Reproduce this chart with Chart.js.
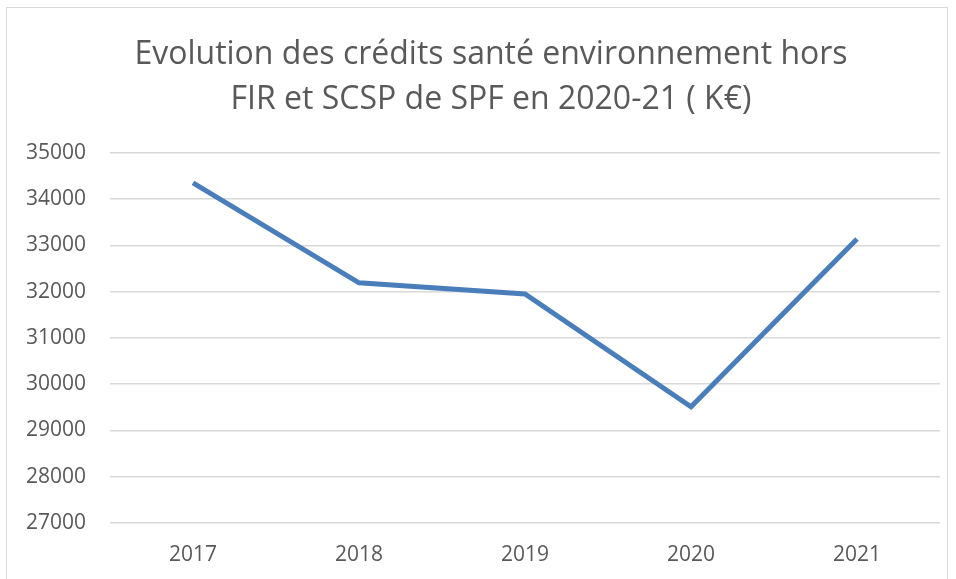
<!DOCTYPE html>
<html>
<head>
<meta charset="utf-8">
<script src="https://cdn.jsdelivr.net/npm/chart.js@4"></script>
<style>
  html, body { margin: 0; padding: 0; background: #fff; }
  #cadre { position: absolute; left: 6px; top: 7px; width: 942px; height: 600px; border: 1px solid #d9d9d9; box-sizing: border-box; }
  #graf { position: absolute; left: 0; top: 0; }
</style>
</head>
<body>
<div id="cadre"></div>
<canvas id="graf" width="956" height="579"></canvas>
<script>
const annees = ["2017", "2018", "2019", "2020", "2021"];
const credits = [34350, 32190, 31950, 29510, 33140];
const titre = ["Evolution des crédits santé environnement hors", "FIR et SCSP de SPF en 2020-21 ( K€)"];

const gris = '#595959';

// le padding gauche sert a recentrer le titre ; on rend la place aux etiquettes de l'axe Y
const elargirAxeY = {
    id: 'elargirAxeY',
    afterLayout(chart) {
        chart.scales.y.left = 0;
    }
};

new Chart(document.getElementById('graf'), {
    type: 'line',
    data: {
        labels: annees,
        datasets: [{
            label: "Crédits",
            data: credits,
            borderColor: '#4a7ebb',
            borderWidth: 5,
            pointRadius: 0,
            tension: 0,
            fill: false
        }]
    },
    options: {
        responsive: false,
        animation: false,
        layout: { padding: { left: 42, right: 16, top: 0, bottom: -1 } },
        plugins: {
            legend: { display: false },
            tooltip: { enabled: false },
            title: {
                display: true,
                text: titre,
                color: gris,
                font: { family: 'Open Sans', size: 32, weight: 'normal', lineHeight: 1.42 },
                padding: { top: 32, bottom: 30 }
            }
        },
        scales: {
            x: {
                offset: true,
                grid: { display: false },
                border: { display: false },
                ticks: { color: gris, font: { family: 'Open Sans', size: 21 }, padding: 12 }
            },
            y: {
                min: 27000,
                max: 35000,
                grid: { color: '#d9d9d9', lineWidth: 1.5, drawTicks: false },
                border: { display: false },
                ticks: {
                    stepSize: 1000,
                    color: gris,
                    font: { family: 'Open Sans', size: 21 },
                    padding: 24,
                    callback: v => String(v)
                },
                afterFit: s => { s.width = 68; }
            }
        }
    },
    plugins: [elargirAxeY]
});
</script>
</body>
</html>
